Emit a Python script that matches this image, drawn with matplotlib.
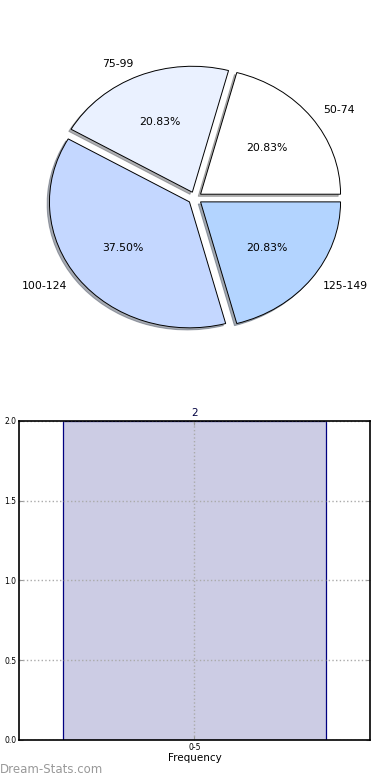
import matplotlib
matplotlib.use('Agg')
from matplotlib import pyplot as plt

# pie data
ranges = ['50-74', '75-99', '100-124', '125-149']
counts = [5, 5, 9, 5]
pie_colors = ['#FFFFFF', '#EAF1FF', '#C4D7FF', '#B3D4FF']

# bar data
bins = ['0-5']
freq = [2]

fig = plt.figure(figsize=(3.9, 7.8), dpi=100)

# pie on top
ax1 = fig.add_axes([0.0, 0.5436, 1.0, 0.405])
wedges, texts, autotexts = ax1.pie(counts, labels=ranges, colors=pie_colors,
                                   autopct='%.2f%%', explode=[0.05] * 4,
                                   shadow={'ox': -0.012, 'oy': -0.012, 'shade': 0.6},
                                   startangle=0,
                                   wedgeprops={'edgecolor': 'black', 'linewidth': 0.7},
                                   textprops={'fontsize': 7.8})
ax1.set_aspect('auto')
ax1.set_xlim(-1.393, 1.393)
ax1.set_ylim(-1.254, 1.254)
ax1.axis('off')

# bar chart below
ax2 = fig.add_axes([0.0487, 0.0513, 0.9, 0.409])
bars = ax2.bar(range(len(bins)), freq, width=0.75, color='#CCCCE4',
               edgecolor='#000080', linewidth=0.9, zorder=1)
ax2.set_xlim(-0.5, 0.5)
ax2.set_ylim(0, 2)
ax2.set_yticks([0.0, 0.5, 1.0, 1.5, 2.0])
ax2.set_yticklabels(['0.0', '0.5', '1.0', '1.5', '2.0'])
ax2.set_xticks(range(len(bins)))
ax2.set_xticklabels(bins)
ax2.tick_params(labelsize=5.5, direction='in', top=True, right=True,
                length=3, color='#999999', pad=2)
ax2.grid(True, linestyle=':', color='#aaaaaa', linewidth=1.0, zorder=2)
ax2.set_axisbelow(False)
for s in ax2.spines.values():
    s.set_linewidth(1.2)
    s.set_zorder(3)
for b, v in zip(bars, freq):
    ax2.text(b.get_x() + b.get_width() / 2, v + 0.02, str(v),
             ha='center', va='bottom', fontsize=7.5, color='#000040')
ax2.set_xlabel('Frequency', fontsize=7.5, labelpad=1)

fig.text(0.0, 0.005, 'Dream-Stats.com', fontsize=8.5, color='#999999',
         ha='left', va='bottom')

fig.savefig('out.png', dpi=100)
